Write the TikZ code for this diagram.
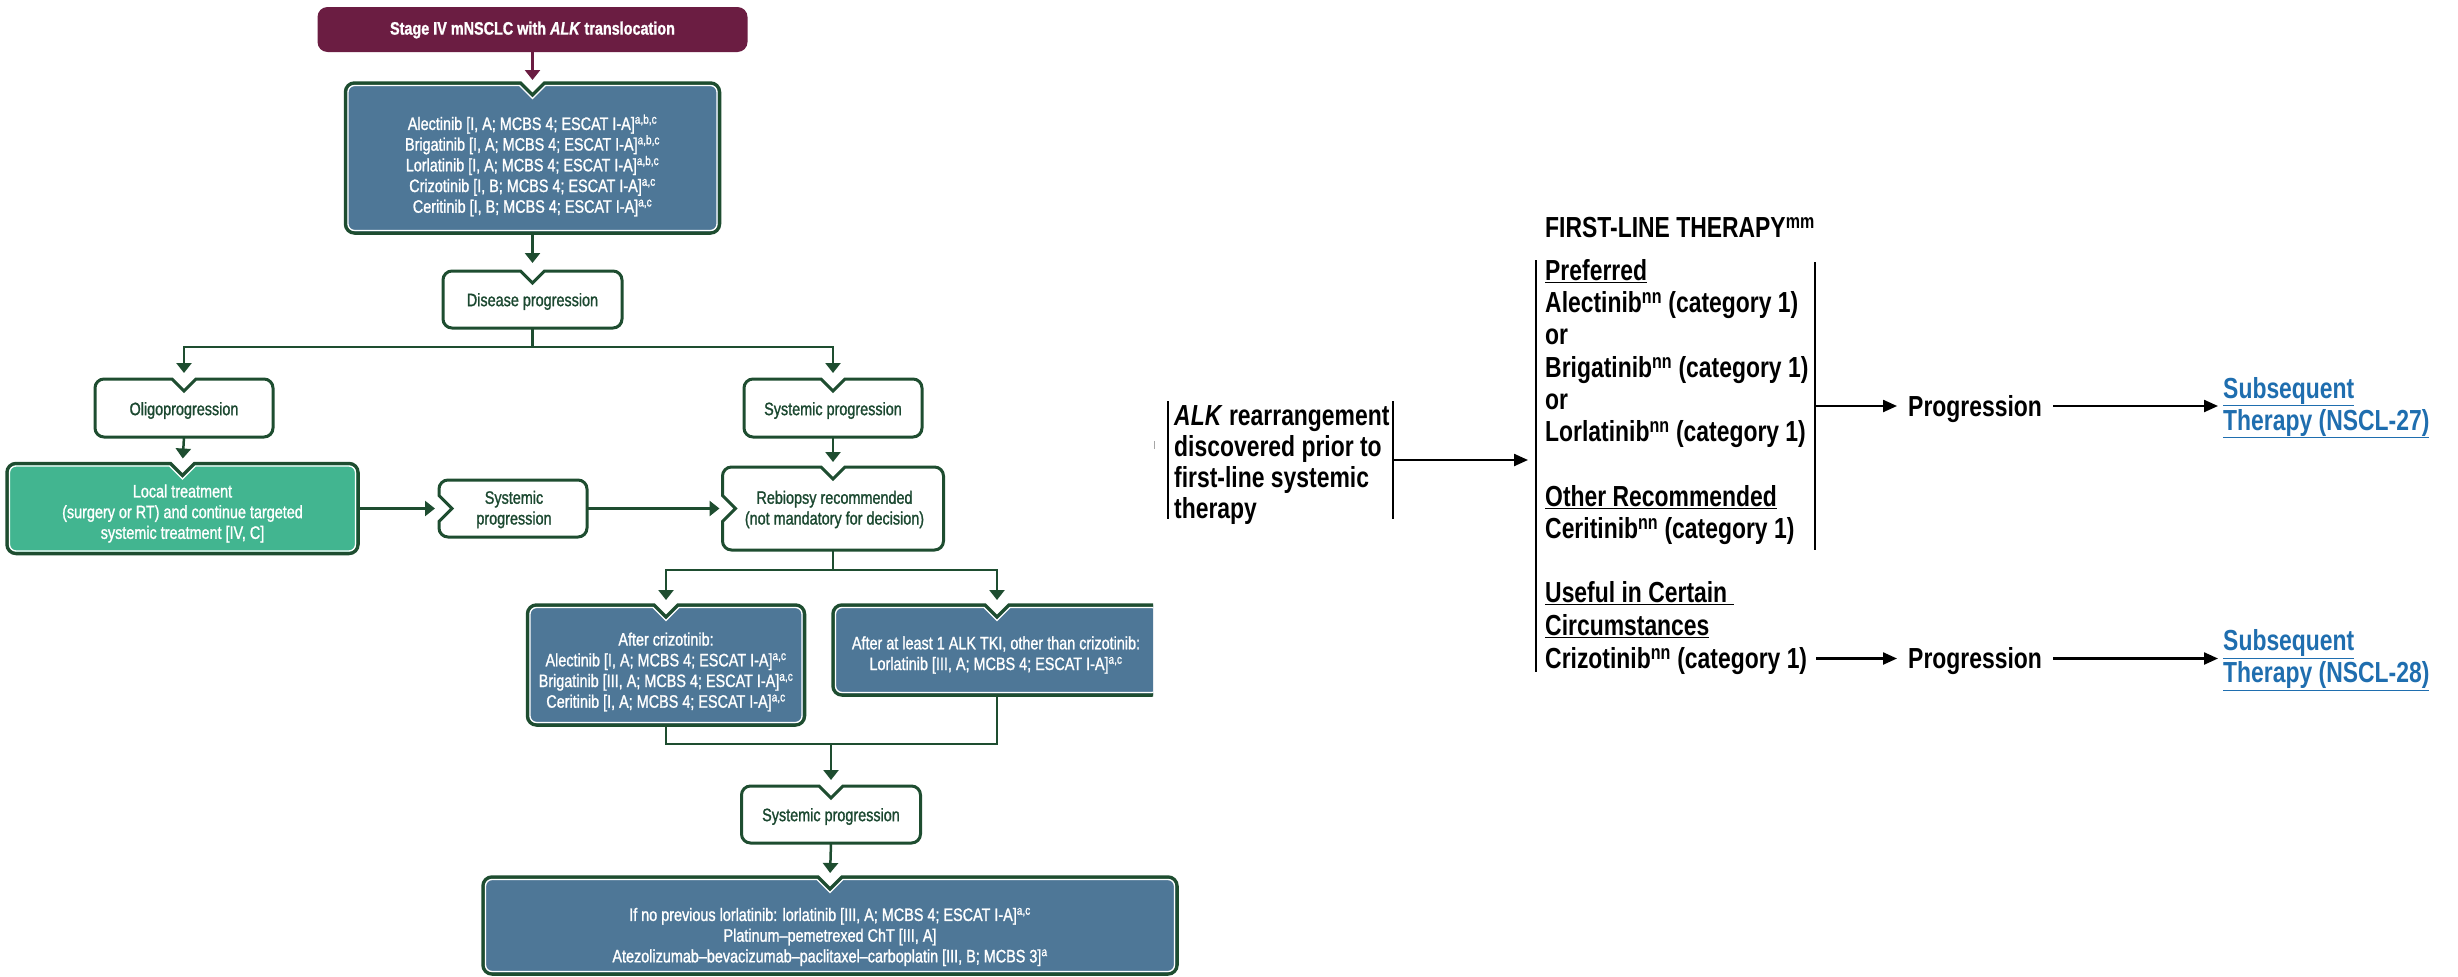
\documentclass[tikz,border=0pt]{standalone}
\usepackage{fontspec}
\usetikzlibrary{arrows.meta,calc}
\setmainfont{Liberation Sans}
\newfontfamily\leftf[FakeStretch=0.80, FakeBold=1.2]{Liberation Sans}
\newfontfamily\rightf[FakeStretch=0.79]{Liberation Sans}
\definecolor{dgreen}{HTML}{1E4D30}
\definecolor{tgreen}{HTML}{1B4830}
\definecolor{bluefill}{HTML}{4E7797}
\definecolor{greenfill}{HTML}{42B590}
\definecolor{maroon}{HTML}{6B1D42}
\definecolor{linkblue}{HTML}{1F6EAF}

% box outline with a V notch at the top centre; #3 = inset in pt
\newcommand\topbox[3][]{%
 \path[#1] let \p1=(#2.south west), \p2=(#2.north east), \p3=(#2.center) in
 (\x1+#3pt,\y3) -- (\x1+#3pt,\y2-9pt)
 arc[start angle=180,end angle=90,radius={9pt-#3pt}]
 -- (\x3-12pt-0.414*#3pt,\y2-#3pt) -- (\x3,\y2-12pt-1.414*#3pt) -- (\x3+12pt+0.414*#3pt,\y2-#3pt)
 -- (\x2-9pt,\y2-#3pt)
 arc[start angle=90,end angle=0,radius={9pt-#3pt}]
 -- (\x2-#3pt,\y1+9pt)
 arc[start angle=0,end angle=-90,radius={9pt-#3pt}]
 -- (\x1+9pt,\y1+#3pt)
 arc[start angle=270,end angle=180,radius={9pt-#3pt}]
 -- cycle;}
% box outline with notches at top and left
\newcommand\topleftbox[2][]{%
 \path[#1] let \p1=(#2.south west), \p2=(#2.north east), \p3=(#2.center) in
 (\x1,\y3+13pt) -- (\x1,\y2-9pt)
 arc[start angle=180,end angle=90,radius=9pt]
 -- (\x3-12pt,\y2) -- (\x3,\y2-12pt) -- (\x3+12pt,\y2)
 -- (\x2-9pt,\y2) arc[start angle=90,end angle=0,radius=9pt]
 -- (\x2,\y1+9pt) arc[start angle=0,end angle=-90,radius=9pt]
 -- (\x1+9pt,\y1) arc[start angle=270,end angle=180,radius=9pt]
 -- (\x1,\y3-13pt) -- (\x1+13pt,\y3) -- cycle;}
% box outline with a notch on the left only
\newcommand\leftbox[2][]{%
 \path[#1] let \p1=(#2.south west), \p2=(#2.north east), \p3=(#2.center) in
 (\x1,\y3+13pt) -- (\x1,\y2-9pt)
 arc[start angle=180,end angle=90,radius=9pt]
 -- (\x2-9pt,\y2) arc[start angle=90,end angle=0,radius=9pt]
 -- (\x2,\y1+9pt) arc[start angle=0,end angle=-90,radius=9pt]
 -- (\x1+9pt,\y1) arc[start angle=270,end angle=180,radius=9pt]
 -- (\x1,\y3-13pt) -- (\x1+13pt,\y3) -- cycle;}

\begin{document}
\begin{tikzpicture}[x=1pt,y=1pt,
  geom/.style={rectangle, inner sep=0pt, outer sep=0pt, draw=none},
  ltxt/.style={font=\leftf\fontsize{18}{20.7}\selectfont, align=center, inner sep=0pt},
  wtxt/.style={ltxt, text=white},
  gtxt/.style={ltxt, text=tgreen},
  rtxt/.style={font=\rightf\bfseries\fontsize{29}{32.25}\selectfont, inner sep=0pt, anchor=west, text height=20.8pt, text depth=0pt},
  rmulti/.style={font=\rightf\bfseries\fontsize{29}{32}\selectfont, inner sep=0pt, anchor=west, align=left},
  garr/.style={draw=dgreen, line width=2.5pt, -{Triangle[width=15pt,length=10pt]}, shorten >=7pt},
  gline/.style={draw=dgreen, line width=2.5pt},
  barr/.style={draw=black, line width=2.3pt, -{Triangle[width=12pt,length=14pt]}},
  vbar/.style={draw=black, line width=2pt},
  bluebox/.style={fill=bluefill, draw=dgreen, line width=3.5pt},
  innerline/.style={draw=white, line width=1.3pt},
  whitebox/.style={fill=white, draw=dgreen, line width=3pt}
]
\useasboundingbox (0,0) rectangle (2458,-977);
\fill[white] (0,0) rectangle (2458,-977);

% ---------- left flowchart: box geometry ----------
\node[geom, minimum width=430pt, minimum height=45pt] (stage) at (532.5,-29.5) {};
\node[geom, minimum width=374pt, minimum height=150pt] (t1) at (532.5,-158) {};
\node[geom, minimum width=179pt, minimum height=57pt] (dp) at (532.5,-299.5) {};
\node[geom, minimum width=178pt, minimum height=58pt] (oligo) at (184,-408) {};
\node[geom, minimum width=178pt, minimum height=58pt] (sysA) at (833,-408) {};
\node[geom, minimum width=351pt, minimum height=90pt] (local) at (182.5,-508.5) {};
\node[geom, minimum width=148pt, minimum height=57pt] (sysB) at (513,-508.5) {};
\node[geom, minimum width=221pt, minimum height=83pt] (rebi) at (833,-508.5) {};
\node[geom, minimum width=277pt, minimum height=120pt] (aftc) at (666,-665) {};
\node[geom, minimum width=328pt, minimum height=90pt] (aftl) at (997,-650) {};
\node[geom, minimum width=179pt, minimum height=57pt] (sysC) at (831,-814.5) {};
\node[geom, minimum width=694pt, minimum height=97pt] (fin) at (830,-925.5) {};

% ---------- box shapes ----------
\fill[maroon, rounded corners=10pt] (stage.south west) rectangle (stage.north east);
\topbox[bluebox]{t1}{0}
\topbox[innerline]{t1}{2.5}
\topbox[whitebox]{dp}{0}
\topbox[whitebox]{oligo}{0}
\topbox[whitebox]{sysA}{0}
\topbox[fill=greenfill, draw=dgreen, line width=3.5pt]{local}{0}
\topbox[innerline]{local}{2.5}
\leftbox[whitebox]{sysB}
\topleftbox[whitebox]{rebi}
\topbox[bluebox]{aftc}{0}
\topbox[innerline]{aftc}{2.5}
\begin{scope}
\clip (820,-585) rectangle (1153,-710);
\topbox[bluebox]{aftl}{0}
\topbox[innerline]{aftl}{2.5}
\end{scope}
\topbox[whitebox]{sysC}{0}
\topbox[bluebox]{fin}{0}
\topbox[innerline]{fin}{2.5}

% ---------- texts ----------
\node[wtxt, font=\leftf\bfseries\fontsize{18}{20.7}\selectfont] (stageT) at (532.5,-30) {Stage IV mNSCLC with \textit{ALK} translocation};
\node[wtxt] (t1T) at (532.5,-165.5) {Alectinib [I, A; MCBS 4; ESCAT I-A]\textsuperscript{a,b,c}\\
Brigatinib [I, A; MCBS 4; ESCAT I-A]\textsuperscript{a,b,c}\\
Lorlatinib [I, A; MCBS 4; ESCAT I-A]\textsuperscript{a,b,c}\\
Crizotinib [I, B; MCBS 4; ESCAT I-A]\textsuperscript{a,c}\\
Ceritinib [I, B; MCBS 4; ESCAT I-A]\textsuperscript{a,c}};
\node[gtxt] (dpT) at (532.5,-301.5) {Disease progression};
\node[gtxt] (oligoT) at (184,-410.5) {Oligoprogression};
\node[gtxt] (sysAT) at (833,-410.5) {Systemic progression};
\node[wtxt] (localT) at (182.5,-513.5) {Local treatment\\(surgery or RT) and continue targeted\\systemic treatment [IV, C]};
\node[gtxt] (sysBT) at (514,-509.5) {Systemic\\progression};
\node[gtxt] (rebiT) at (834.5,-509.5) {Rebiopsy recommended\\(not mandatory for decision)};
\node[wtxt] (aftcT) at (666,-672) {After crizotinib:\\Alectinib [I, A; MCBS 4; ESCAT I-A]\textsuperscript{a,c}\\Brigatinib [III, A; MCBS 4; ESCAT I-A]\textsuperscript{a,c}\\Ceritinib [I, A; MCBS 4; ESCAT I-A]\textsuperscript{a,c}};
\node[wtxt] (aftlT) at (996,-655) {After at least 1 ALK TKI, other than crizotinib:\\Lorlatinib [III, A; MCBS 4; ESCAT I-A]\textsuperscript{a,c}};
\node[gtxt] (sysCT) at (831,-816.5) {Systemic progression};
\node[wtxt] (finT) at (830,-937) {If no previous lorlatinib: lorlatinib [III, A; MCBS 4; ESCAT I-A]\textsuperscript{a,c}\\Platinum–pemetrexed ChT [III, A]\\Atezolizumab–bevacizumab–paclitaxel–carboplatin [III, B; MCBS 3]\textsuperscript{a}};

% ---------- left connectors ----------
\draw[garr, draw=maroon, shorten >=3pt] (stage.south) -- (t1.north);
\draw[garr, shorten >=8pt] (t1.south) -- (dp.north);
\draw[garr, shorten >=6pt] (dp.south) -- ++(0,-19) -| (oligo.north);
\draw[garr, shorten >=6pt] (dp.south) -- ++(0,-19) -| (sysA.north);
\draw[garr, shorten >=5pt] (oligo.south) -- (local.north);
\draw[garr, shorten >=5pt] (sysA.south) -- (rebi.north);
\draw[garr, shorten >=4pt] (local.east) -- (sysB.west);
\draw[garr, shorten >=3pt] (sysB.east) -- (rebi.west);
\draw[garr, shorten >=5pt] (rebi.south) -- ++(0,-20) -| (aftc.north);
\draw[garr, shorten >=5pt] (rebi.south) -- ++(0,-20) -| (aftl.north);
\draw[gline] (aftc.south) -- ++(0,-19) -| (aftl.south);
\coordinate (j2) at (831,-744);
\draw[garr, shorten >=6pt] (j2) -- (sysC.north);
\draw[garr, shorten >=4pt] (sysC.south) -- (fin.north);

% ---------- right (NCCN) part ----------
\draw[gray!70, line width=1pt] (1154,-441) -- (1154,-449);
\node[rmulti, font=\rightf\bfseries\fontsize{29}{30.7}\selectfont] (alk) at (1174,-465) {\textit{ALK} rearrangement\\discovered prior to\\first-line systemic\\therapy};
\coordinate (alkTL) at (1168,-401); \coordinate (alkBL) at (1168,-519);
\coordinate (alkTR) at (1393,-401); \coordinate (alkBR) at (1393,-519);
\coordinate (ftTL) at (1536,-260); \coordinate (ftBL) at (1536,-672);
\coordinate (ftTR) at (1815,-262); \coordinate (ftBR) at (1815,-550);
\coordinate (alkout) at (1393,-460); \coordinate (ftin) at (1536,-460);
\coordinate (ftout) at (1815,-406);
\draw[vbar] (alkTL) -- (alkBL);
\draw[vbar] (alkTR) -- (alkBR);
\draw[vbar] (ftTL) -- (ftBL);
\draw[vbar] (ftTR) -- (ftBR);

\node[rtxt] (head) at (1545,-227.5) {FIRST-LINE THERAPY\textsuperscript{mm}};
\node[rtxt] (pref) at (1545,-270) {\underline{Preferred}};
\node[rtxt] (alec) at (1545,-302.25) {Alectinib\textsuperscript{nn} (category 1)};
\node[rtxt] (or1) at (1545,-334.5) {or};
\node[rtxt] (brig) at (1545,-366.75) {Brigatinib\textsuperscript{nn} (category 1)};
\node[rtxt] (or2) at (1545,-399) {or};
\node[rtxt] (lorl) at (1545,-431.25) {Lorlatinib\textsuperscript{nn} (category 1)};
\node[rtxt] (othr) at (1545,-495.75) {\underline{Other Recommended}};
\node[rtxt] (ceri) at (1545,-528) {Ceritinib\textsuperscript{nn} (category 1)};
\node[rtxt] (usef) at (1545,-592.5) {\underline{Useful in Certain\ }};
\node[rtxt] (circ) at (1545,-624.75) {\underline{Circumstances}};
\node[rtxt] (criz) at (1545,-658.5) {Crizotinib\textsuperscript{nn} (category 1)};

\node[rtxt] (prog1) at (1908,-406) {Progression};
\node[rtxt] (prog2) at (1908,-658.5) {Progression};
\node[rmulti, text=linkblue] (sub1) at (2223,-407.5) {\underline{Subsequent}\\\underline{Therapy (NSCL-27)}};
\node[rmulti, text=linkblue] (sub2) at (2223,-660) {\underline{Subsequent}\\\underline{Therapy (NSCL-28)}};

\draw[barr, shorten >=8pt] (alkout) -- (ftin);
\draw[barr, shorten >=11pt] (ftout) -- (prog1.west);
\draw[barr, shorten <=11pt, shorten >=5pt] (prog1.east) -- (prog1.east -| sub1.west);
\draw[barr, shorten <=9pt, shorten >=11pt] (criz.east) -- (criz.east -| prog2.west);
\draw[barr, shorten <=11pt, shorten >=5pt] (prog2.east) -- (prog2.east -| sub2.west);
\end{tikzpicture}
\end{document}
